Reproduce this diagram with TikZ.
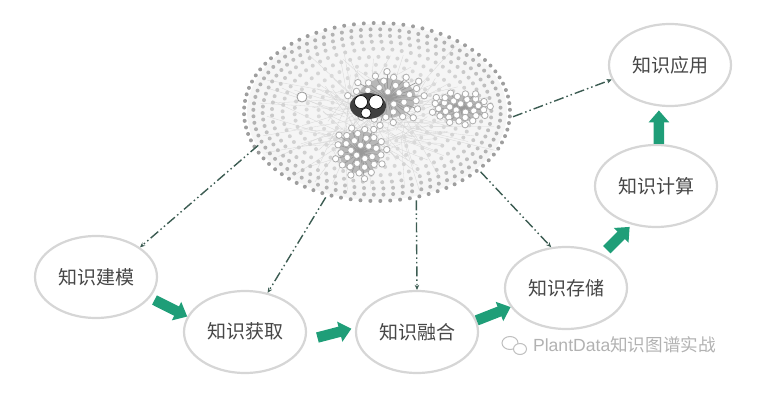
\documentclass[tikz,border=0pt]{standalone}
\usepackage{fontspec}
\newfontfamily\cjk{Noto Sans CJK SC}
\setmainfont{Liberation Sans}
\usetikzlibrary{shapes.geometric,arrows.meta}
\definecolor{stepgreen}{HTML}{1F9E78}
\definecolor{linkgreen}{HTML}{3C5C52}
\definecolor{ringgray}{HTML}{D6D6D6}
\tikzset{
	stepnode/.style={ellipse,draw=ringgray,line width=2.2pt,fill=white,inner sep=0pt,minimum width=122pt,minimum height=82pt,text=black!72,font=\cjk\fontsize{19}{20}\selectfont},
	steparrow/.style={draw=stepgreen,line width=10.5pt,-{Triangle[length=12pt,width=20pt,fill=stepgreen]}},
	linkarrow/.style={draw=linkgreen,line width=1.4pt,dash pattern=on 10pt off 3pt on 1.5pt off 3pt on 1.5pt off 3pt,-{Stealth[length=5pt,width=4.5pt]}},
	cloudnode/.style={ellipse,inner sep=0pt,minimum width=272pt,minimum height=184pt},
}
\begin{document}
\begin{tikzpicture}[x=1pt,y=-1pt]
	\useasboundingbox (0,0) rectangle (775,403);
	\fill [black!4] (377,112) ellipse (130 and 88);
	\pgfmathsetseed{7}
	% faint edges
	\foreach \i in {1,...,150} {
		\pgfmathsetmacro{\ang}{\i*97.3}
		\pgfmathsetmacro{\rad}{0.3+0.6*rnd}
		\pgfmathsetmacro{\cx}{340+70*rnd}
		\pgfmathsetmacro{\cy}{95+50*rnd}
		\draw [black!16,line width=0.3pt] (\cx,\cy) -- ++({110*\rad*cos(\ang)},{75*\rad*sin(\ang)});
	}
	% rings of dots
	\foreach \rad/\num/\shade in {1/84/38,0.93/80/30,0.86/74/25,0.79/68/21,0.71/62/18,0.62/54/17,0.53/46/15,0.44/38/15,0.35/30/14} {
		\foreach \i in {1,...,\num} {
			\pgfmathsetmacro{\ang}{360/\num*\i+\rad*50}
			\fill [black!\shade] ({377+133*\rad*cos(\ang)},{112+89*\rad*sin(\ang)}) circle (2);
		}
	}
	% dense clusters
	\foreach \cx/\cy/\kx/\ky/\num in {460/108/5.2/3/34,360/152/4.6/4.8/34,387/98/6.4/4.4/40} {
		\fill [black!28] (\cx,\cy) ellipse ({\kx*4.5} and {\ky*4.5});
		\foreach \i in {1,...,\num} {
			\pgfmathsetmacro{\ang}{\i*137.5}
			\pgfmathsetmacro{\rad}{sqrt(\i)}
			\draw [black!40,line width=0.7pt] (\cx,\cy) -- ({\cx+\kx*\rad*cos(\ang)},{\cy+\ky*\rad*sin(\ang)});
		}
		\foreach \i in {1,...,\num} {
			\pgfmathsetmacro{\ang}{\i*137.5}
			\pgfmathsetmacro{\rad}{sqrt(\i)}
			\draw [black!32,fill=white,line width=0.8pt] ({\cx+\kx*\rad*cos(\ang)},{\cy+\ky*\rad*sin(\ang)}) circle (3.2);
		}
	}
	\draw [black!40,fill=white,line width=0.8pt] (302,97) circle (5);
	\fill [black!75] (368,106) ellipse (18 and 13);
	\draw [black,fill=white,line width=0.6pt] (361,102) circle (6.5);
	\draw [black,fill=white,line width=0.6pt] (376,102) circle (7);
	\draw [black,fill=white,line width=0.6pt] (366,113) circle (5);
	\node [cloudnode] (cloud) at (377,112) {};
	\node [stepnode] (model) at (96,277) {知识建模};
	\node [stepnode] (acquire) at (245,332) {\raisebox{3pt}{知识获取}};
	\node [stepnode] (fuse) at (417,332) {知识融合};
	\node [stepnode] (store) at (566,288) {知识存储};
	\node [stepnode] (compute) at (656,186) {知识计算};
	\node [stepnode] (apply) at (670,65) {知识应用};
	\draw [steparrow,shorten <=5pt] (model.-21) -- (acquire.165);
	\draw [steparrow,shorten <=12pt,shorten >=4pt] (acquire.-8) -- (fuse.176);
	\draw [steparrow] (fuse.11) -- (store.199);
	\draw [steparrow,shorten <=6pt,shorten >=3pt] (store.43) -- (compute.-122);
	\draw [steparrow,shorten >=4pt] (compute.86) -- (apply.-105);
	\draw [linkarrow,shorten <=-7pt] (cloud.197) -- (model.34);
	\draw [linkarrow] (cloud.239) -- (acquire.60);
	\draw [linkarrow] (cloud.-66) -- (fuse.90);
	\draw [linkarrow] (cloud.-30) -- (store.110);
	\draw [linkarrow] (cloud.-2) -- (apply.194);
	% watermark
	\node [text=black!30,inner sep=0pt,font=\fontsize{17.6}{19}\selectfont] (mark) at (624.5,345) {PlantData{\cjk 知识图谱实战}};
	\draw [black!25,fill=white,line width=1pt] (510,343) ellipse (8 and 6.5);
	\draw [black!25,fill=white,line width=1pt] (520,349) ellipse (6.5 and 5.5);
\end{tikzpicture}
\end{document}
